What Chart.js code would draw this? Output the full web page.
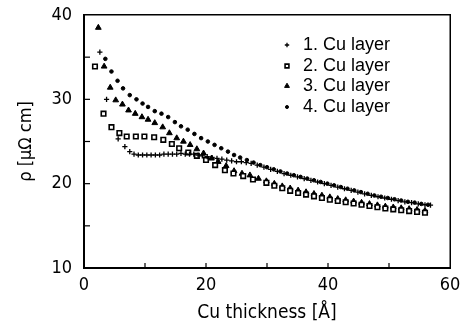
<!DOCTYPE html>
<html>
<head>
<meta charset="utf-8">
<script src="https://cdn.jsdelivr.net/npm/chart.js@4.4.0/dist/chart.umd.min.js"></script>
<style>
  html, body { margin: 0; padding: 0; background: #fff; }
  #wrap { width: 463px; height: 324px; }
</style>
</head>
<body>
<div id="wrap"><canvas id="chart" width="463" height="324"></canvas></div>
<script>
// values (thickness in Å, rho in µΩ cm)
const layer1X = [2.6, 3.7, 5.6, 6.7, 7.5, 8.2, 8.9, 9.6, 10.3, 11.0, 11.7, 12.4, 13.1, 13.8, 14.5, 15.2, 15.9, 16.6, 17.3, 18.0,
  18.7, 19.4, 20.2, 21.0, 21.8, 22.6, 23.4, 24.2, 25.0, 25.8, 26.6, 27.4, 28.4, 29.5, 30.6, 31.7, 32.8, 33.9, 35.0, 36.1,
  37.2, 38.3, 39.4, 40.5, 41.6, 42.7, 43.8, 44.9, 46.0, 47.1, 48.2, 49.3, 50.4, 51.5, 52.6, 53.7, 54.8, 55.9, 56.8];
const layer1Y = [35.6, 30.0, 25.3, 24.4, 23.8, 23.5, 23.4, 23.4, 23.4, 23.4, 23.4, 23.4, 23.5, 23.5, 23.5, 23.5, 23.6, 23.5, 23.5, 23.5,
  23.4, 23.3, 23.2, 23.1, 23.0, 22.9, 22.8, 22.7, 22.6, 22.6, 22.5, 22.4, 22.2, 21.95, 21.7, 21.45, 21.2, 21.0, 20.8, 20.6,
  20.4, 20.2, 20.0, 19.8, 19.6, 19.4, 19.2, 19.0, 18.8, 18.6, 18.45, 18.3, 18.15, 18.0, 17.85, 17.75, 17.6, 17.5, 17.45];

const layer2X = [1.8, 3.2, 4.5, 5.8, 7.0, 8.5, 9.9, 11.5, 13.0, 14.4, 15.6, 17.1, 18.5, 20.0, 21.5, 23.1, 24.5, 26.1, 27.7,
  29.9, 31.2, 32.5, 33.8, 35.1, 36.4, 37.7, 39.0, 40.3, 41.6, 42.9, 44.2, 45.5, 46.8, 48.1, 49.4, 50.7, 52.0, 53.3, 54.6, 55.9];
const layer2Y = [33.9, 28.3, 26.7, 26.0, 25.6, 25.6, 25.6, 25.5, 25.2, 24.7, 24.2, 23.7, 23.3, 22.8, 22.2, 21.6, 21.2, 20.9, 20.5,
  20.1, 19.75, 19.45, 19.15, 18.9, 18.7, 18.5, 18.3, 18.1, 17.95, 17.8, 17.65, 17.5, 17.35, 17.2, 17.05, 16.95, 16.85, 16.75, 16.65, 16.55];

const layer3X = [2.35, 3.3, 4.3, 5.2, 6.3, 7.3, 8.4, 9.5, 10.5, 11.6, 12.9, 14.0, 15.2, 16.3, 17.4, 18.5, 19.6, 20.9, 22.0, 23.3,
  24.6, 25.9, 27.2, 28.6, 29.9, 31.2, 32.5, 33.8, 35.1, 36.4, 37.7, 39.0, 40.3, 41.6, 42.9, 44.2, 45.5, 46.8, 48.1, 49.4,
  50.7, 52.0, 53.3, 54.6, 55.9];
const layer3Y = [38.5, 33.9, 31.4, 29.9, 29.4, 28.7, 28.3, 27.9, 27.6, 27.2, 26.7, 26.0, 25.4, 25.0, 24.6, 24.1, 23.6, 23.0, 22.6, 22.1,
  21.5, 21.2, 21.0, 20.6, 20.3, 20.0, 19.7, 19.45, 19.2, 19.0, 18.8, 18.6, 18.4, 18.2, 18.05, 17.9, 17.75, 17.6, 17.45, 17.3,
  17.2, 17.1, 17.0, 16.9, 16.8];

const layer4X = [3.5, 4.5, 5.5, 6.4, 7.5, 8.6, 9.6, 10.5, 11.6, 12.7, 13.8, 14.9, 15.9, 17.0, 18.1, 19.2, 20.3, 21.4, 22.5, 23.6,
  24.6, 25.6, 26.7, 27.8, 28.9, 30.0, 31.1, 32.2, 33.3, 34.4, 35.5, 36.6, 37.7, 38.8, 39.9, 41.0, 42.1, 43.2, 44.3, 45.4,
  46.5, 47.6, 48.7, 49.8, 50.9, 52.0, 53.1, 54.2, 55.3, 56.4];
const layer4Y = [34.8, 33.3, 32.2, 31.3, 30.5, 30.0, 29.5, 29.1, 28.6, 28.3, 27.9, 27.3, 26.8, 26.4, 25.9, 25.4, 25.0, 24.6, 24.2, 23.8,
  23.4, 23.1, 22.8, 22.5, 22.2, 21.95, 21.7, 21.45, 21.2, 21.0, 20.8, 20.6, 20.4, 20.2, 20.0, 19.8, 19.6, 19.4, 19.2, 19.0,
  18.8, 18.6, 18.45, 18.3, 18.15, 18.0, 17.85, 17.75, 17.6, 17.5];

const seriesLabels = ['1. Cu layer', '2. Cu layer', '3. Cu layer', '4. Cu layer'];
const xTickLabels = [0, 20, 40, 60];
const yTickLabels = [10, 20, 30, 40];

const toPoints = (xs, ys) => xs.map((x, i) => ({ x, y: ys[i] }));

const markers = [
  { pointStyle: 'cross', radius: 2.6, borderWidth: 1.3, bg: '#000' },
  { pointStyle: 'rect', radius: 3.2, borderWidth: 1.6, bg: '#fff' },
  { pointStyle: 'triangle', radius: 3.3, borderWidth: 1, bg: '#000' },
  { pointStyle: 'circle', radius: 1.8, borderWidth: 1, bg: '#000' }
];

const allData = [
  toPoints(layer1X, layer1Y),
  toPoints(layer2X, layer2Y),
  toPoints(layer3X, layer3Y),
  toPoints(layer4X, layer4Y)
];

const axisFont = { family: "'DejaVu Sans Condensed', 'DejaVu Sans', sans-serif", size: 18 };

// box around the plot plus inward tick marks (filled strips)
const plotBox = {
  id: 'plotBox',
  afterDraw(chart) {
    const ctx = chart.ctx;
    const sx = chart.scales.x;
    const sy = chart.scales.y;
    const L = sx.getPixelForValue(0), R = sx.getPixelForValue(60);
    const B = sy.getPixelForValue(10), T = sy.getPixelForValue(40);
    ctx.save();
    ctx.fillStyle = '#000';
    ctx.fillRect(L - 1, T - 1, R - L + 2, 1.5);   // top
    ctx.fillRect(R - 0.5, T - 1, 1.5, B - T + 2); // right
    ctx.fillRect(L - 1, B - 1, R - L + 2, 2);     // bottom
    ctx.fillRect(L - 1, T - 1, 2, B - T + 2);     // left
    for (let v = 10; v < 60; v += 10) {
      const px = sx.getPixelForValue(v);
      ctx.fillRect(px - 0.6, B - 5, 1.2, 5);
    }
    for (let v = 15; v < 40; v += 5) {
      const py = sy.getPixelForValue(v);
      ctx.fillRect(L, py - 0.6, 6, 1.2);
    }
    ctx.restore();
  }
};

// legend sits inside the frame, top right
const innerLegend = {
  id: 'innerLegend',
  afterDraw(chart) {
    const { ctx } = chart;
    ctx.save();
    ctx.font = "18px 'Liberation Sans', Arial, sans-serif";
    ctx.textBaseline = 'middle';
    const rows = [45, 66, 86, 107];
    seriesLabels.forEach((label, i) => {
      const m = markers[i];
      ctx.strokeStyle = '#000';
      ctx.fillStyle = m.bg;
      ctx.lineWidth = m.borderWidth;
      Chart.helpers.drawPoint(ctx, { pointStyle: m.pointStyle, radius: m.radius * 0.85, rotation: 0, borderWidth: m.borderWidth }, 287, rows[i]);
      ctx.fillStyle = '#000';
      ctx.fillText(label, 303, rows[i]);
    });
    ctx.restore();
  }
};

new Chart(document.getElementById('chart'), {
  type: 'scatter',
  data: {
    datasets: allData.map((pts, i) => ({
      label: seriesLabels[i],
      data: pts,
      pointStyle: markers[i].pointStyle,
      pointRadius: markers[i].radius,
      pointBorderWidth: markers[i].borderWidth,
      pointBackgroundColor: markers[i].bg,
      pointBorderColor: '#000',
      showLine: false
    }))
  },
  options: {
    responsive: false,
    animation: false,
    layout: { padding: { left: 0, top: 15, right: 13, bottom: 0 } },
    plugins: { legend: { display: false }, tooltip: { enabled: false } },
    scales: {
      x: {
        type: 'linear',
        min: 0,
        max: 60,
        grid: { display: false, drawTicks: false },
        border: { display: false },
        ticks: {
          stepSize: 10,
          padding: 7,
          color: '#000',
          font: axisFont,
          maxRotation: 0,
          callback: v => (xTickLabels.includes(v) ? v : '')
        },
        title: { display: true, text: 'Cu thickness [Å]', color: '#000', font: { ...axisFont, size: 19 }, padding: 0 },
        afterFit: s => { s.height = 56; s.paddingLeft = 0; s.paddingRight = 0; }
      },
      y: {
        type: 'linear',
        min: 10,
        max: 40,
        grid: { display: false, drawTicks: false },
        border: { display: false },
        ticks: {
          stepSize: 5,
          padding: 12,
          color: '#000',
          font: axisFont,
          callback: v => (yTickLabels.includes(v) ? v : '')
        },
        title: { display: true, text: 'ρ [μΩ cm]', color: '#000', font: axisFont, padding: { top: 16, bottom: 0 } },
        afterFit: s => { s.width = 84; s.paddingTop = 0; s.paddingBottom = 0; }
      }
    }
  },
  plugins: [plotBox, innerLegend]
});
</script>
</body>
</html>
